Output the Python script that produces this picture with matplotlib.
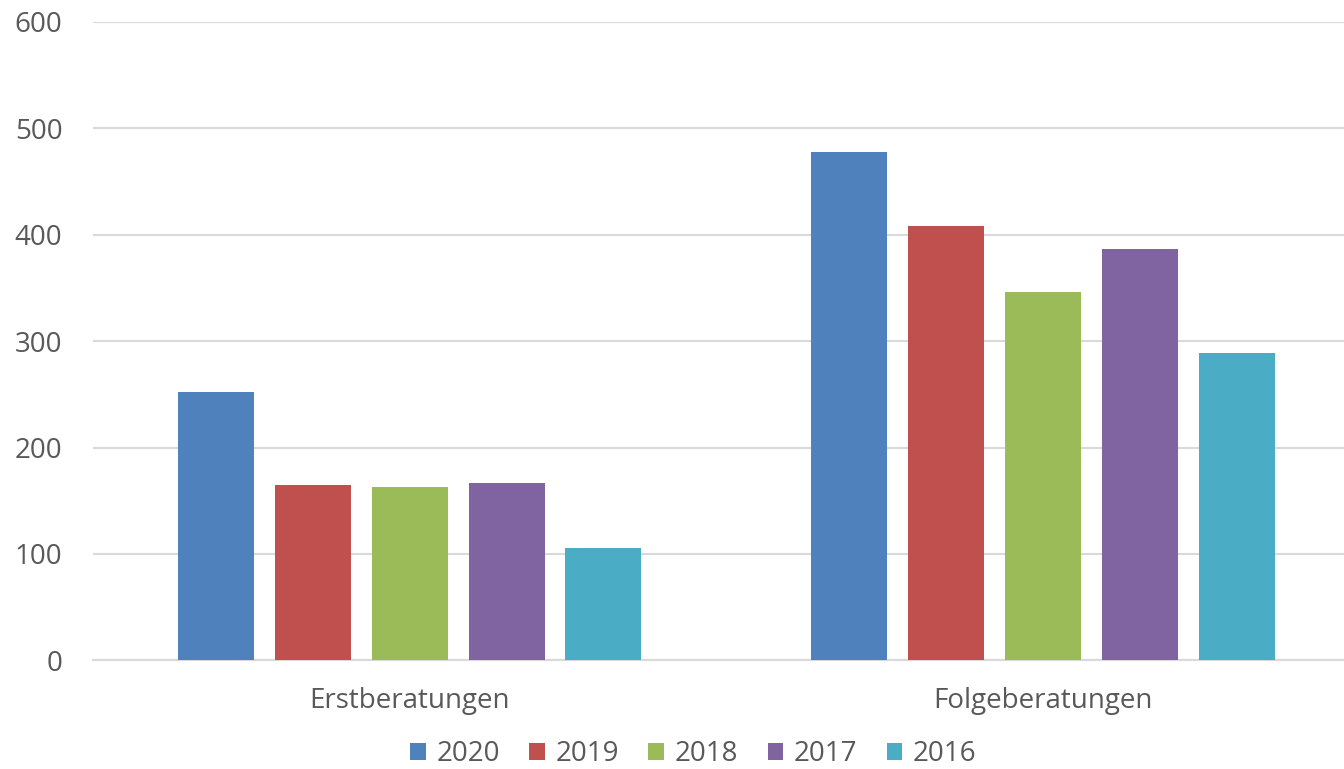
import numpy as np
import matplotlib.pyplot as plt

# values
categories = ['Erstberatungen', 'Folgeberatungen']
years = ['2020', '2019', '2018', '2017', '2016']
v2020 = [252, 478]
v2019 = [165, 408]
v2018 = [163, 346]
v2017 = [167, 387]
v2016 = [106, 289]
colors = ['#4F81BD', '#C0504D', '#9BBB59', '#8064A2', '#4BACC6']

plt.rcParams['font.family'] = ['Open Sans', 'DejaVu Sans']
text_color = '#595959'

fig = plt.figure(figsize=(13.44, 7.69), dpi=100)
ax = fig.add_axes([93 / 1344, 108.7 / 769, (1359.5 - 93) / 1344, 638.3 / 769])

x = np.arange(len(categories))
step = 0.153
width = 0.120
series = [v2020, v2019, v2018, v2017, v2016]
for i, (vals, col, yr) in enumerate(zip(series, colors, years)):
    ax.bar(x + (i - 2) * step, vals, width, color=col, label=yr, zorder=3)

ax.set_xlim(-0.5, 1.5)
ax.set_ylim(0, 600)
ax.set_yticks(range(0, 601, 100))
ax.set_xticks(x)
ax.set_xticklabels(categories)
ax.grid(axis='y', color='#D9D9D9', linewidth=1.5, zorder=0)
ax.tick_params(axis='y', length=0, pad=22, labelsize=20, labelcolor=text_color)
ax.tick_params(axis='x', length=0, pad=19, labelsize=20, labelcolor=text_color)
for s in ['top', 'right', 'left']:
    ax.spines[s].set_visible(False)
ax.spines['bottom'].set_color('#D9D9D9')
ax.spines['bottom'].set_linewidth(1.5)

leg = fig.legend(loc='center', bbox_to_anchor=(0.516, 15 / 769), ncol=5, frameon=False,
                 fontsize=20, handlelength=0.55, handleheight=0.55, handletextpad=0.4,
                 columnspacing=1.05, borderpad=0)
for t in leg.get_texts():
    t.set_color(text_color)

fig.savefig('out.png', dpi=100)
